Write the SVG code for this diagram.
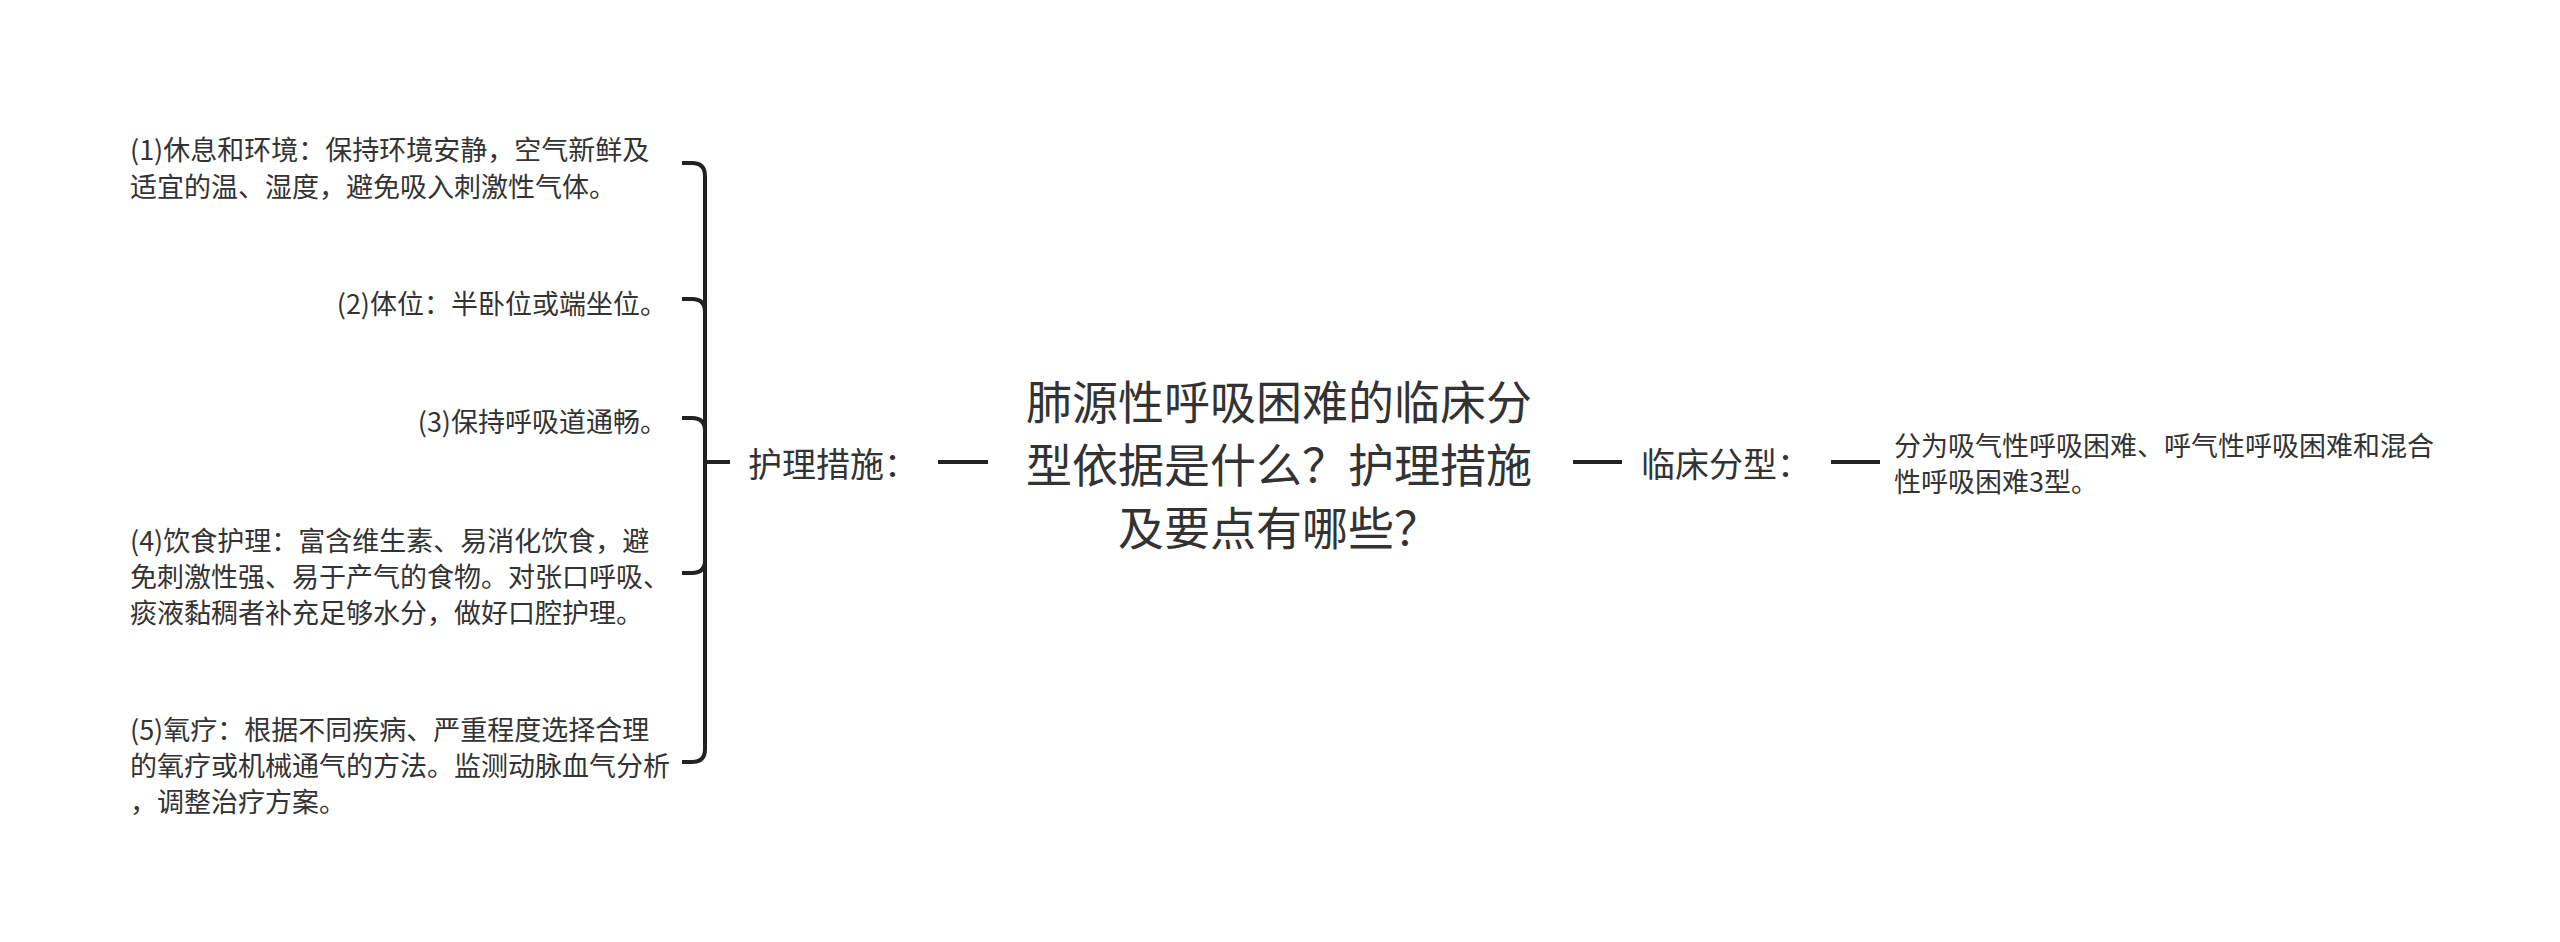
<svg xmlns="http://www.w3.org/2000/svg" width="2560" height="942" viewBox="0 0 2560 942">
<style>
text{font-family:"Noto Sans CJK SC","Noto Sans",sans-serif;fill:#333;dominant-baseline:central}
.s{font-size:27px}
.m{font-size:34px}
.t{font-size:46px}
.ln{fill:none;stroke:#222;stroke-width:4;stroke-linecap:butt}
</style>
<rect width="2560" height="942" fill="#fff"/>
<g id="connectors">
<path class="ln" d="M682,163 H692 Q705,163 705,176 V749 Q705,762 692,762 H682"/>
<path class="ln" d="M682,299 H692 Q705,299 705,312"/>
<path class="ln" d="M682,418 H692 Q705,418 705,431"/>
<path class="ln" d="M682,573 H692 Q705,573 705,560"/>
<path class="ln" d="M705,462 H730"/>
<path class="ln" d="M938,462 H988"/>
<path class="ln" d="M1573,462 H1622"/>
<path class="ln" d="M1831,462 H1880"/>
</g>
<g id="root">
<text class="t" x="1279" y="399" text-anchor="middle">肺源性呼吸困难的临床分</text>
<text class="t" x="1279" y="462" text-anchor="middle">型依据是什么？护理措施</text>
<text class="t" x="1279" y="525" text-anchor="middle">及要点有哪些？</text>
</g>
<g id="n-huli">
<text class="m" x="748" y="462">护理措施：</text>
</g>
<g id="n-linchuang">
<text class="m" x="1641" y="462">临床分型：</text>
</g>
<g id="n-linchuang-1">
<text class="s" x="1894" y="444">分为吸气性呼吸困难、呼气性呼吸困难和混合</text>
<text class="s" x="1894" y="480">性呼吸困难3型。</text>
</g>
<g id="n-item1">
<text class="s" x="130" y="148">(1)休息和环境：保持环境安静，空气新鲜及</text>
<text class="s" x="130" y="185">适宜的温、湿度，避免吸入刺激性气体。</text>
</g>
<g id="n-item2">
<text class="s" x="667" y="302" text-anchor="end">(2)体位：半卧位或端坐位。</text>
</g>
<g id="n-item3">
<text class="s" x="667" y="420" text-anchor="end">(3)保持呼吸道通畅。</text>
</g>
<g id="n-item4">
<text class="s" x="130" y="539">(4)饮食护理：富含维生素、易消化饮食，避</text>
<text class="s" x="130" y="575">免刺激性强、易于产气的食物。对张口呼吸、</text>
<text class="s" x="130" y="611">痰液黏稠者补充足够水分，做好口腔护理。</text>
</g>
<g id="n-item5">
<text class="s" x="130" y="728">(5)氧疗：根据不同疾病、严重程度选择合理</text>
<text class="s" x="130" y="764">的氧疗或机械通气的方法。监测动脉血气分析</text>
<text class="s" x="130" y="800">，调整治疗方案。</text>
</g>
</svg>
